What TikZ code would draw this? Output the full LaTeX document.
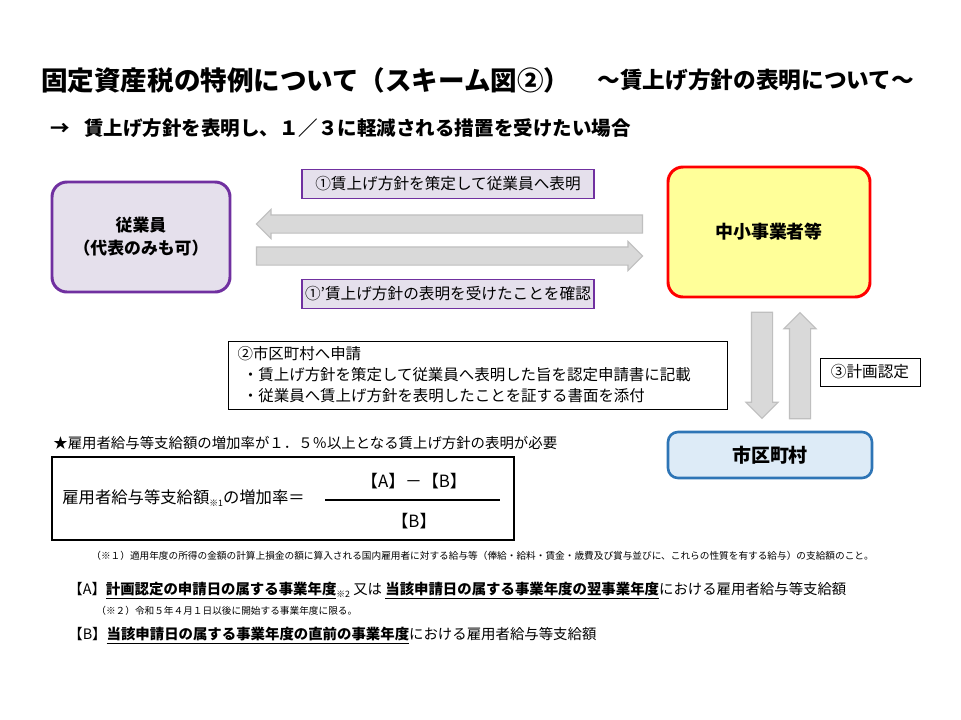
\documentclass[tikz,border=0pt]{standalone}
\usepackage{fontspec}
\setmainfont{Noto Sans CJK JP}
\usetikzlibrary{shapes.arrows}

\definecolor{purp}{HTML}{7030A0}
\definecolor{lav}{HTML}{E5E0EC}
\definecolor{yel}{HTML}{FFFF99}
\definecolor{blu}{HTML}{2E75B6}
\definecolor{lblu}{HTML}{DDEBF7}
\definecolor{arrfill}{HTML}{D9D9D9}
\definecolor{arrline}{HTML}{BFBFBF}

\newcommand{\fsz}[2]{\fontsize{#1}{#2}\selectfont}
\def\pxu{0.02cm}

\begin{document}
\begin{tikzpicture}[x=0.02cm, y=-0.02cm]

	\tikzset{
		party/.style={draw, rounded corners=0.3cm, line width=1.7pt, align=center,
			font=\fsz{9.6}{13}\bfseries},
		lblbox/.style={draw=purp, fill=lav, line width=0.9pt, minimum width=292*\pxu,
			minimum height=29*\pxu, inner sep=0pt, font=\fsz{8.9}{11}},
		blockarr/.style={single arrow, draw=arrline, fill=arrfill, line width=0.6pt,
			inner sep=8.5*\pxu, minimum width=28*\pxu, single arrow head extend=5.5*\pxu},
		vblockarr/.style={blockarr, inner sep=10*\pxu, minimum width=31*\pxu, single arrow head extend=5.5*\pxu},
		plain/.style={anchor=west, inner sep=0pt}
	}

	% page
	\useasboundingbox[fill=white] (0,0) rectangle (961,720);

	% --- TITLE ---
	\node[plain, font=\fsz{15.1}{17}\bfseries] (title) at (41,80) {固定資産税の特例について（スキーム図②）};
	\node[plain, font=\fsz{12.9}{14}\bfseries] (subtitle) at (597,80) {～賃上げ方針の表明について～};
	\node[plain, font=\fsz{11.1}{12}\bfseries] (case) at (50,128) {→\hspace{0.75em}賃上げ方針を表明し、１／３に軽減される措置を受けたい場合};

	% --- PARTIES ---
	\node[party, draw=purp, fill=lav, minimum width=178*\pxu, minimum height=110*\pxu] (emp) at (141,237) {従業員\\（代表のみも可）};
	\node[party, draw=red, fill=yel, minimum width=202*\pxu, minimum height=130*\pxu, font=\fsz{10.2}{13}\bfseries] (sme) at (769,232) {中小事業者等};
	\node[party, draw=blu, fill=lblu, line width=1.5pt, rounded corners=0.2cm, minimum width=204*\pxu, minimum height=46*\pxu, font=\fsz{10.8}{13}\bfseries] (city) at (770,455) {市区町村};

	% --- STEP 1 ---
	\node[lblbox] (step1) at (448,184) {①賃上げ方針を策定して従業員へ表明};
	\node[lblbox] (step1b) at (448,294) {①'賃上げ方針の表明を受けたことを確認};
	\node[blockarr, shape border rotate=180, minimum height=386*\pxu] (toemp) at (454,224) {};
	\node[blockarr, minimum height=386*\pxu] (tosme) at (445,256) {};

	% --- STEP 2 / 3 ---
	\node[vblockarr, shape border rotate=270, minimum height=106*\pxu] (tocity) at (762,360) {};
	\node[vblockarr, shape border rotate=90, minimum height=106*\pxu] (fromcity) at (800,371) {};
	\node[draw, line width=0.5pt, minimum width=499*\pxu, minimum height=68*\pxu, text width=480*\pxu,
		align=left, inner sep=0pt, font=\fsz{8.8}{11.9}] (apply) at (477.5,375)
		{②市区町村へ申請\\
		\hspace*{0.35em}・賃上げ方針を策定して従業員へ表明した旨を認定申請書に記載\\
		\hspace*{0.35em}・従業員へ賃上げ方針を表明したことを証する書面を添付};
	\node[draw, line width=0.5pt, minimum width=100*\pxu, minimum height=28*\pxu, inner sep=0pt,
		font=\fsz{8.9}{11}] (cert) at (870,372) {③計画認定};

	% --- FORMULA ---
	\node[plain, font=\fsz{8.2}{10}] (need) at (53,443) {★雇用者給与等支給額の増加率が１．５％以上となる賃上げ方針の表明が必要};
	\node[draw, line width=1.2pt, minimum width=462*\pxu, minimum height=83*\pxu] (fbox) at (283,498.5) {};
	\node[plain, font=\fsz{9.3}{11}] (lhs) at (62,498) {雇用者給与等支給額\raisebox{-0.4ex}{\fsz{5}{6}※1}の増加率＝};
	\node[font=\fsz{9.6}{11}] (numer) at (414,481) {【A】－【B】};
	\node[font=\fsz{9.6}{11}] (denom) at (414,521) {【B】};
	\draw[line width=1.4pt] (325,500) -- (500,500);

	% --- NOTES ---
	\node[plain, font=\fsz{5.5}{6}] (note1) at (91,556) {（※１）適用年度の所得の金額の計算上損金の額に算入される国内雇用者に対する給与等（俸給・給料・賃金・歳費及び賞与並びに、これらの性質を有する給与）の支給額のこと。};
	\node[plain, font=\fsz{8.2}{10}] (defA) at (68,591) {【A】\underline{\bfseries 計画認定の申請日の属する事業年度}\raisebox{-0.3ex}{\fsz{5}{6}※2} 又は \underline{\bfseries 当該申請日の属する事業年度の翌事業年度}における雇用者給与等支給額};
	\node[plain, font=\fsz{5.5}{6}] (note2) at (96,611) {（※２）令和５年４月１日以後に開始する事業年度に限る。};
	\node[plain, font=\fsz{8.2}{10}] (defB) at (68,636) {【B】\underline{\bfseries 当該申請日の属する事業年度の直前の事業年度}における雇用者給与等支給額};

\end{tikzpicture}
\end{document}
